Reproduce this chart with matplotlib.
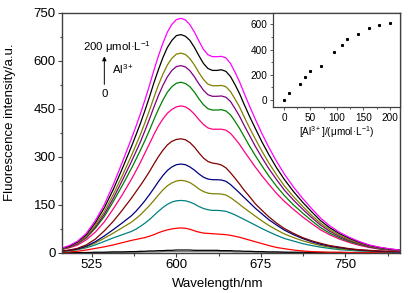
import matplotlib
matplotlib.use("Agg")
import matplotlib.pyplot as plt
from matplotlib.ticker import MultipleLocator, AutoMinorLocator

plt.rcParams['font.family'] = ['Liberation Sans', 'DejaVu Sans']
plt.rcParams['mathtext.fontset'] = 'custom'
plt.rcParams['mathtext.rm'] = 'Liberation Sans'
plt.rcParams['mathtext.it'] = 'Liberation Sans:italic'

# wavelength grid (nm) where the spectra were read
wavelength = [499, 505, 512, 520, 528, 536, 544, 552,
              560, 564, 568, 572, 576, 580, 584, 588, 592, 596,
              600, 604, 608, 612, 616, 620, 624, 628, 632, 636,
              640, 644, 648, 652, 656, 660, 665, 670, 676, 682,
              689, 696, 704, 712, 720, 728, 736, 745, 754, 762,
              771, 780, 789, 798]

# spectra, from 0 to 200 umol/L Al3+ (bottom to top)
s_gray = [0, 0, 0, 0, 0, 0, 1, 1,
          1, 1, 1, 2, 2, 2, 2, 3, 3, 3,
          3, 3, 3, 3, 3, 3, 3, 3, 3, 3,
          3, 3, 3, 2, 2, 2, 2, 2, 1, 1,
          1, 1, 0, 0, 0, 0, 0, 0, 0, 0,
          0, 0, 0, 0]
s_black0 = [0, 0, 0, 0, 1, 1, 2, 2,
            3, 3, 4, 4, 5, 5, 6, 6, 7, 7,
            8, 8, 8, 8, 7, 7, 7, 7, 7, 7,
            6, 6, 6, 5, 5, 4, 4, 3, 3, 2,
            2, 1, 1, 1, 0, 0, 0, 0, 0, 0,
            0, 0, 0, 0]
s_red = [1, 2, 4, 8, 13, 18, 24, 31,
         38, 41, 44, 47, 51, 56, 62, 67, 71, 74,
         76, 77, 76, 73, 68, 64, 61, 60, 59, 58,
         57, 56, 54, 51, 48, 44, 39, 34, 28, 22,
         16, 12, 8, 5, 3, 2, 1, 1, 0, 0,
         0, 0, 0, 0]
s_teal = [3, 5, 9, 15, 24, 35, 46, 56,
          66, 73, 82, 92, 103, 116, 129, 141, 151, 158,
          162, 163, 162, 158, 152, 144, 138, 134, 132, 132,
          131, 129, 124, 118, 111, 104, 95, 86, 75, 65,
          54, 44, 36, 28, 22, 17, 13, 9, 7, 5,
          4, 3, 2, 1]
s_olive2 = [4, 6, 10, 18, 30, 45, 61, 78,
            95, 106, 118, 132, 147, 163, 180, 196, 209, 218,
            224, 226, 224, 219, 210, 199, 191, 186, 184, 184,
            183, 180, 172, 162, 151, 140, 127, 114, 99, 85,
            71, 58, 47, 37, 29, 22, 17, 12, 9, 7,
            5, 4, 3, 2]
s_blue = [5, 7, 11, 20, 34, 52, 72, 93,
          115, 129, 145, 162, 181, 201, 222, 241, 257, 268,
          275, 277, 275, 268, 258, 246, 236, 230, 228, 228,
          227, 223, 213, 200, 187, 173, 156, 139, 121, 103,
          86, 70, 56, 44, 34, 26, 20, 15, 11, 8,
          6, 4, 3, 2]
s_brown = [5, 8, 13, 24, 42, 68, 98, 133,
           170, 190, 210, 231, 253, 277, 300, 320, 337, 348,
           354, 356, 353, 344, 330, 312, 296, 285, 280, 278,
           274, 265, 250, 233, 215, 196, 175, 153, 132, 112,
           92, 75, 60, 47, 37, 29, 22, 17, 12, 9,
           7, 5, 4, 3]
s_pink = [10, 15, 23, 40, 64, 96, 137, 181,
          229, 255, 282, 311, 340, 369, 396, 418, 436, 448,
          456, 459, 456, 447, 433, 416, 401, 390, 386, 386,
          386, 383, 373, 357, 339, 318, 293, 268, 240, 214,
          185, 160, 135, 112, 91, 71, 56, 42, 31, 23,
          16, 11, 8, 5]
s_green = [11, 17, 27, 46, 76, 113, 160, 210,
           263, 291, 320, 350, 382, 416, 448, 477, 502, 519,
           530, 533, 529, 519, 502, 481, 463, 450, 446, 446,
           447, 443, 431, 411, 389, 364, 333, 304, 271, 240,
           207, 178, 149, 124, 100, 78, 61, 46, 34, 26,
           18, 12, 9, 6]
s_purple = [12, 18, 28, 48, 80, 120, 170, 226,
            284, 315, 346, 381, 417, 455, 491, 523, 550, 570,
            582, 585, 581, 569, 550, 528, 508, 494, 489, 489,
            490, 486, 473, 451, 427, 399, 366, 333, 297, 263,
            228, 195, 164, 136, 110, 86, 67, 50, 37, 28,
            19, 13, 9, 6]
s_olive = [12, 19, 30, 51, 85, 128, 182, 241,
           303, 336, 369, 406, 444, 485, 524, 558, 587, 608,
           621, 624, 620, 607, 587, 563, 542, 527, 522, 522,
           523, 519, 504, 481, 456, 426, 390, 356, 317, 281,
           243, 208, 175, 145, 117, 92, 72, 54, 40, 30,
           21, 14, 10, 7]
s_black = [14, 20, 33, 56, 93, 140, 198, 263,
           331, 367, 404, 444, 486, 531, 572, 610, 642, 664,
           679, 682, 677, 664, 642, 616, 592, 576, 570, 570,
           572, 567, 551, 526, 498, 465, 426, 389, 346, 307,
           265, 228, 191, 158, 128, 100, 78, 59, 44, 33,
           23, 16, 11, 8]
s_magenta = [15, 22, 35, 60, 100, 150, 213, 283,
             356, 394, 434, 477, 522, 570, 615, 655, 690, 714,
             729, 733, 728, 713, 690, 662, 636, 619, 613, 613,
             614, 609, 592, 565, 535, 500, 458, 418, 372, 330,
             285, 245, 205, 170, 138, 108, 84, 63, 47, 35,
             24, 17, 12, 8]

spectra = [s_gray, s_black0, s_red, s_teal, s_olive2, s_blue, s_brown,
           s_pink, s_green, s_purple, s_olive, s_black, s_magenta]
colors = ['#808080', '#000000', '#ff0000', '#008080', '#808000', '#000080', '#800000',
          '#ff0080', '#008000', '#800080', '#808000', '#000000', '#ff00ff']

# inset: intensity vs Al3+ concentration
conc = [0, 10, 30, 40, 50, 70, 95, 110, 120, 140, 160, 180, 200]
inset_int = [3, 56, 128, 181, 232, 272, 381, 437, 485, 525, 568, 595, 608]

spine_col = '#404040'

fig = plt.figure(figsize=(4.14, 2.93), dpi=100)
ax = fig.add_axes([0.150, 0.138, 0.816, 0.818])

for s, c in zip(spectra, colors):
    ax.plot(wavelength, s, color=c, lw=0.9)

ax.set_xlim(498.5, 798.5)
ax.set_ylim(0, 750)
ax.xaxis.set_major_locator(MultipleLocator(75))
ax.xaxis.set_minor_locator(AutoMinorLocator(2))
ax.yaxis.set_major_locator(MultipleLocator(150))
ax.yaxis.set_minor_locator(AutoMinorLocator(2))
ax.tick_params(which='both', direction='out', color=spine_col, labelsize=9.5, width=0.8, pad=1.5)
ax.tick_params(which='major', length=3)
ax.tick_params(which='minor', length=1.8)
for sp in ax.spines.values():
    sp.set_color(spine_col)
    sp.set_linewidth(1.0)

ax.set_xlabel('Wavelength/nm', fontsize=9.5)
ax.set_ylabel('Fluorescence intensity/a.u.', fontsize=9.5)
ax.xaxis.set_label_coords(0.46, -0.105)
ax.yaxis.set_label_coords(-0.135, 0.545)

# concentration arrow annotation
ax.annotate('', xy=(0.125, 0.83), xytext=(0.125, 0.69), xycoords='axes fraction',
            arrowprops=dict(arrowstyle='-|>', color='black', lw=0.7, mutation_scale=6))
ax.text(0.062, 0.856, '200 μmol·L$^{-1}$', transform=ax.transAxes, fontsize=8.2, va='center')
ax.text(0.148, 0.766, 'Al$^{3+}$', transform=ax.transAxes, fontsize=8.2, va='center')
ax.text(0.127, 0.662, '0', transform=ax.transAxes, fontsize=8.2, va='center', ha='center')

# inset
ins = fig.add_axes([0.659, 0.635, 0.307, 0.321])
ins.plot(conc, inset_int, 's', color='black', ms=1.2, mec='black')
ins.set_xlim(-21, 219)
ins.set_ylim(-54, 690)
ins.xaxis.set_major_locator(MultipleLocator(50))
ins.xaxis.set_minor_locator(AutoMinorLocator(2))
ins.yaxis.set_major_locator(MultipleLocator(200))
ins.yaxis.set_minor_locator(AutoMinorLocator(2))
ins.tick_params(which='both', direction='out', color=spine_col, labelsize=7.2, width=0.6, pad=1.5)
ins.tick_params(which='major', length=2.5)
ins.tick_params(which='minor', length=1.5)
for sp in ins.spines.values():
    sp.set_color(spine_col)
    sp.set_linewidth(0.9)
ins.set_xlabel('[Al$^{3+}$]/(μmol·L$^{-1}$)', fontsize=7.2, labelpad=1)

fig.savefig('out.png', dpi=100)
